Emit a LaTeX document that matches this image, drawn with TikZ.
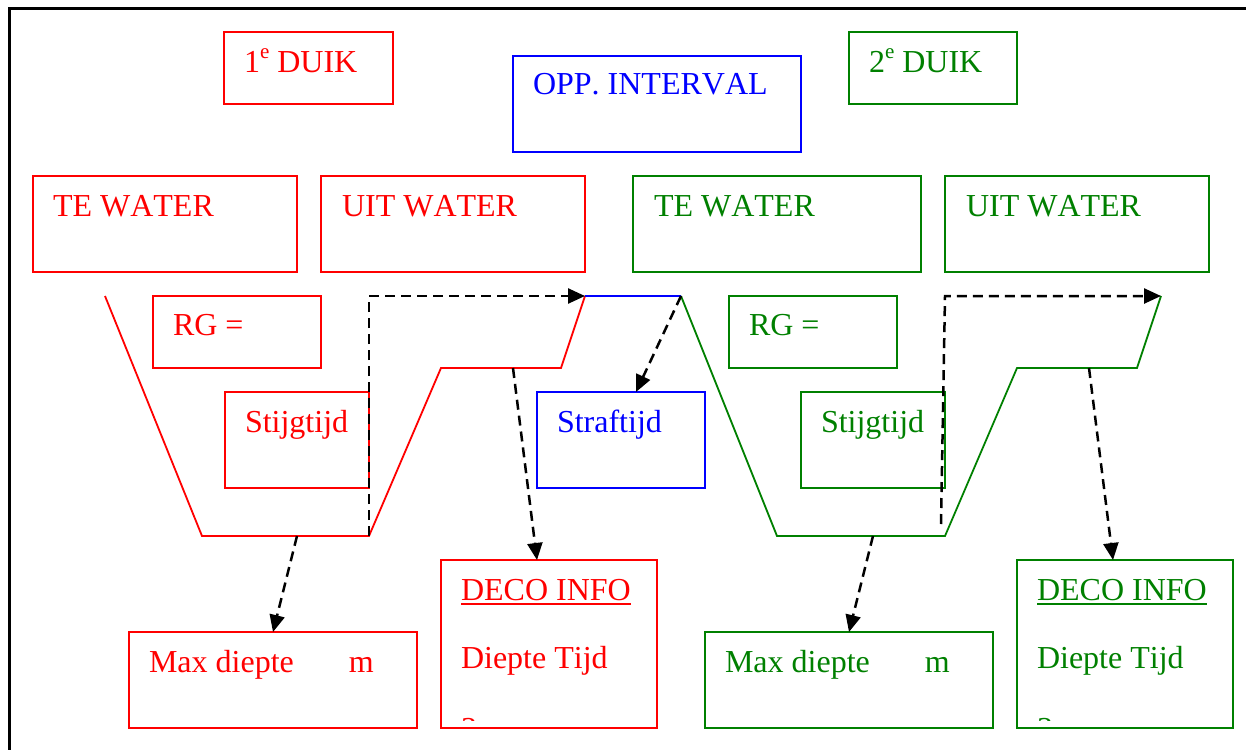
\documentclass[tikz,border=0pt]{standalone}
\usepackage{fontspec}
\setmainfont[Kerning=Off]{Liberation Serif}
\usetikzlibrary{arrows.meta,calc}
\definecolor{dgreen}{RGB}{0,128,0}
\definecolor{pred}{RGB}{255,0,0}
\definecolor{pblue}{RGB}{0,0,255}
\newcommand{\supe}{\raisebox{14pt}{\fontsize{21}{21}\selectfont e}}
\tikzset{
  box/.style={draw=#1, line width=2.2pt, rectangle, anchor=north west, inner sep=0pt, outer sep=0pt},
  txt/.style={text=#1, anchor=base west, inner sep=0pt, outer sep=0pt, font=\fontsize{32}{38}\selectfont},
  profile/.style={draw=#1, line width=1.8pt, line join=miter},
  dashline/.style={draw=black, line width=2.5pt, dash pattern=on 10pt off 6pt, -{Triangle[length=17pt,width=15pt]}},
  frame/.style={draw=black, line width=3pt}
}
\begin{document}
\begin{tikzpicture}[x=1pt,y=-1pt]
\useasboundingbox (0,0) rectangle (1246,749);
\clip (0,0) rectangle (1246,749);
% outer frame
\coordinate (fr1) at (9,800);
\coordinate (fr2) at (9,8.5);
\coordinate (fr3) at (1300,8.5);
\draw[frame] (fr1) -- (fr2) -- (fr3);

% boxes
\node[box=pred, minimum width=169pt, minimum height=72pt] (duikA) at (224,32) {};
\node[box=pblue, minimum width=288pt, minimum height=96pt] (opp) at (513,56) {};
\node[box=dgreen, minimum width=168pt, minimum height=72pt] (duikB) at (849,32) {};
\node[box=pred, minimum width=264pt, minimum height=96pt] (teA) at (33,176) {};
\node[box=pred, minimum width=264pt, minimum height=96pt] (uitA) at (321,176) {};
\node[box=dgreen, minimum width=288pt, minimum height=96pt] (teB) at (633,176) {};
\node[box=dgreen, minimum width=264pt, minimum height=96pt] (uitB) at (945,176) {};
\node[box=pred, minimum width=168pt, minimum height=72pt] (rgA) at (153,296) {};
\node[box=pred, minimum width=144pt, minimum height=96pt] (stA) at (225,392) {};
\node[box=pblue, minimum width=168pt, minimum height=96pt] (straf) at (537,392) {};
\node[box=dgreen, minimum width=168pt, minimum height=72pt] (rgB) at (729,296) {};
\node[box=dgreen, minimum width=144pt, minimum height=96pt] (stB) at (801,392) {};
\node[box=pred, minimum width=288pt, minimum height=96pt] (maxA) at (129,632) {};
\node[box=pred, minimum width=216pt, minimum height=168pt] (decoA) at (441,560) {};
\node[box=dgreen, minimum width=288pt, minimum height=96pt] (maxB) at (705,632) {};
\node[box=dgreen, minimum width=216pt, minimum height=168pt] (decoB) at (1017,560) {};

% texts
\node[txt=pred] (tduikA) at ($(duikA.north west)+(20,41)$) {1\supe{} DUIK};
\node[txt=pblue] (topp) at ($(opp.north west)+(20,39)$) {OPP. INTERVAL};
\node[txt=dgreen] (tduikB) at ($(duikB.north west)+(20,41)$) {2\supe{} DUIK};
\node[txt=pred] (tteA) at ($(teA.north west)+(20,40)$) {TE WATER};
\node[txt=pred] (tuitA) at ($(uitA.north west)+(21,40)$) {UIT WATER};
\node[txt=dgreen] (tteB) at ($(teB.north west)+(21,40)$) {TE WATER};
\node[txt=dgreen] (tuitB) at ($(uitB.north west)+(21,40)$) {UIT WATER};
\node[txt=pred] (trgA) at ($(rgA.north west)+(20,39)$) {RG =};
\node[txt=pred] (tstA) at ($(stA.north west)+(20,40)$) {Stijgtijd};
\node[txt=pblue] (tstraf) at ($(straf.north west)+(20,40)$) {Straftijd};
\node[txt=dgreen] (trgB) at ($(rgB.north west)+(20,39)$) {RG =};
\node[txt=dgreen] (tstB) at ($(stB.north west)+(20,40)$) {Stijgtijd};
\node[txt=pred] (tmaxA) at ($(maxA.north west)+(20,40)$) {Max diepte\hspace*{55pt}m};
\node[txt=dgreen] (tmaxB) at ($(maxB.north west)+(20,40)$) {Max diepte\hspace*{55pt}m};
\node[txt=pred] (tdecoA) at ($(decoA.north west)+(20,40)$) {DECO INFO};
\node[txt=pred] (tdiepA) at ($(decoA.north west)+(20,108)$) {Diepte Tijd};
\node[txt=dgreen] (tdecoB) at ($(decoB.north west)+(20,40)$) {DECO INFO};
\node[txt=dgreen] (tdiepB) at ($(decoB.north west)+(20,108)$) {Diepte Tijd};
\draw[pred, line width=2pt] ($(tdecoA.base west)+(0,4)$) -- ($(tdecoA.base east)+(0,4)$);
\draw[dgreen, line width=2pt] ($(tdecoB.base west)+(0,4)$) -- ($(tdecoB.base east)+(0,4)$);
\begin{scope}
  \clip (441,560) rectangle (657,720);
  \node[txt=pred] (tcutA) at ($(decoA.north west)+(20,179)$) {3};
\end{scope}
\begin{scope}
  \clip (1017,560) rectangle (1233,720);
  \node[txt=dgreen] (tcutB) at ($(decoB.north west)+(20,179)$) {3};
\end{scope}

% profile coordinates
\coordinate (pA1) at (105,296);
\coordinate (pA2) at (202,536);
\coordinate (pA3) at (369,536);
\coordinate (pA4) at (441,368);
\coordinate (pA5) at (561,368);
\coordinate (pA6) at (585,296);
\coordinate (pB1) at (681,296);
\coordinate (pB2) at (777,536);
\coordinate (pB3) at (945,536);
\coordinate (pB4) at (1017,368);
\coordinate (pB5) at (1137,368);
\coordinate (pB6) at (1161,296);

\draw[profile=pred] (pA1) -- (pA2) -- (pA3) -- (pA4) -- (pA5) -- (pA6);
\draw[profile=pblue] (pA6) -- (pB1);
\draw[profile=dgreen] (pB1) -- (pB2) -- (pB3) -- (pB4) -- (pB5) -- (pB6);

% dashed connectors
\coordinate (cA) at (369,296);
\coordinate (cB) at (945,296);
\coordinate (gB) at (941,524);
\coordinate (mA) at (297,536);
\coordinate (mA2) at (513,368);
\coordinate (tipDA) at (537,560);
\coordinate (tipSt) at (636,392);
\coordinate (mB) at (873,536);
\coordinate (mB2) at (1089,368);
\coordinate (tipDB) at (1113,560);

\draw[dashline] (pA3) -- (cA) -- (pA6);
\draw[dashline] (gB) -- (cB) -- (pB6);
\draw[dashline] (mA) -- (maxA.north);
\draw[dashline] (mA2) -- (tipDA);
\draw[dashline] (pB1) -- (tipSt);
\draw[dashline] (mB) -- (maxB.north);
\draw[dashline] (mB2) -- (tipDB);
\end{tikzpicture}
\end{document}
